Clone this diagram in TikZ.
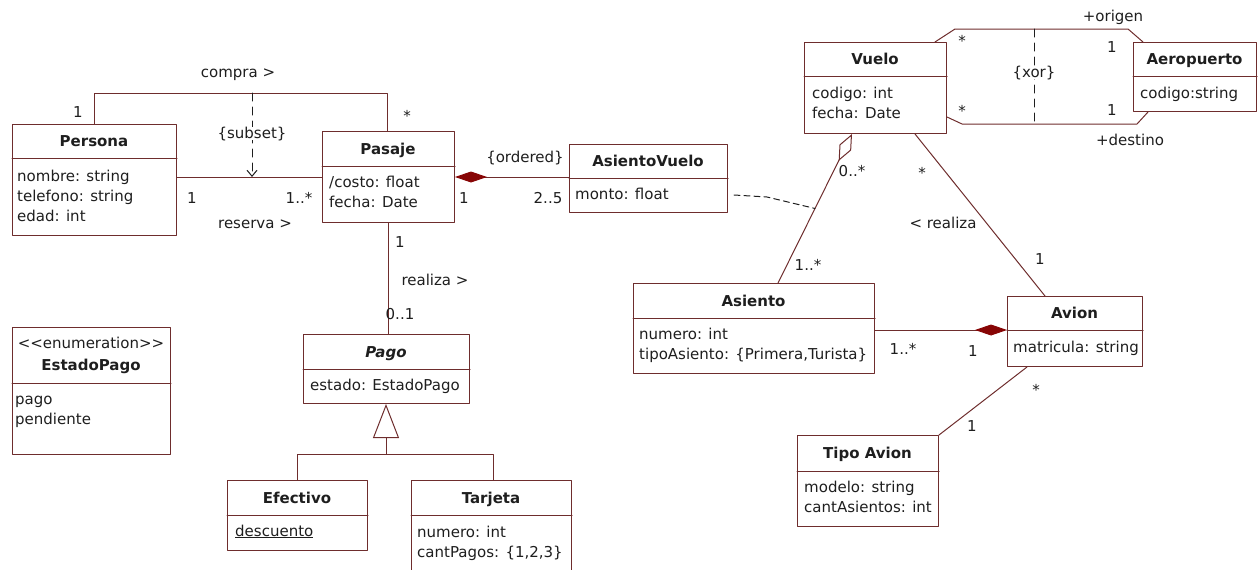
\documentclass[tikz,border=0pt]{standalone}
\usepackage{fontspec}
\setmainfont{DejaVu Sans}
\usetikzlibrary{arrows.meta}

\definecolor{umlborder}{RGB}{110,45,45}
\definecolor{umlfill}{RGB}{135,5,5}
\definecolor{umltext}{RGB}{30,30,30}

\begin{document}
\begin{tikzpicture}[
  x=1pt, y=-1pt,
  line cap=round,
  line join=round,
  every node/.style={font=\fontsize{15}{20}\selectfont, text=umltext, inner sep=0pt},
  classbox/.style={draw=umlborder, line width=1pt, anchor=north west},
  classname/.style={font=\fontsize{15}{20}\selectfont\bfseries, text height=11pt, text depth=0pt},
  attrs/.style={anchor=base west, align=left},
  assoc/.style={draw=umlborder, line width=1pt},
  dashedline/.style={draw=umltext, line width=1pt, dash pattern=on 8pt off 6pt},
  lbl/.style={text height=11pt, text depth=0pt},
  umlcomp/.tip={Diamond[fill=umlfill, color=umlfill, length=32pt, width=11pt]},
  umlaggr/.tip={Diamond[open, fill=white, color=umlborder, length=30pt, width=13pt]}
]
  \useasboundingbox (0,0) rectangle (1258,570);

  % Persona
  \node[classbox, minimum width=164, minimum height=111] (persona) at (12,124) {};
  \draw[assoc] (persona.west |- 0,158) -- (persona.east |- 0,158);
  \node[classname] (persona-name) at (94,141) {Persona};
  \node[attrs] (persona-attrs) at (17,221) {nombre: string\\telefono: string\\edad: int};

  % Pasaje
  \node[classbox, minimum width=132, minimum height=91] (pasaje) at (322,131) {};
  \draw[assoc] (pasaje.west |- 0,166) -- (pasaje.east |- 0,166);
  \node[classname] (pasaje-name) at (388,148.5) {Pasaje};
  \node[attrs] (pasaje-attrs) at (329,207) {/costo: float\\fecha: Date};

  % AsientoVuelo
  \node[classbox, minimum width=158, minimum height=68] (asientovuelo) at (569,144) {};
  \draw[assoc] (asientovuelo.west |- 0,178) -- (asientovuelo.east |- 0,178);
  \node[classname] (asientovuelo-name) at (648,161) {AsientoVuelo};
  \node[attrs] (asientovuelo-attrs) at (575,199) {monto: float};

  % Vuelo
  \node[classbox, minimum width=142, minimum height=91] (vuelo) at (804,42) {};
  \draw[assoc] (vuelo.west |- 0,76) -- (vuelo.east |- 0,76);
  \node[classname] (vuelo-name) at (875,59) {Vuelo};
  \node[attrs] (vuelo-attrs) at (812,118) {codigo: int\\fecha: Date};

  % Aeropuerto
  \node[classbox, minimum width=123, minimum height=69] (aeropuerto) at (1133,42) {};
  \draw[assoc] (aeropuerto.west |- 0,76) -- (aeropuerto.east |- 0,76);
  \node[classname] (aeropuerto-name) at (1194.5,59) {Aeropuerto};
  \node[attrs] (aeropuerto-attrs) at (1140,98) {codigo:string};

  % Asiento
  \node[classbox, minimum width=241, minimum height=90] (asiento) at (633,283) {};
  \draw[assoc] (asiento.west |- 0,318) -- (asiento.east |- 0,318);
  \node[classname] (asiento-name) at (753.5,300.5) {Asiento};
  \node[attrs] (asiento-attrs) at (639,359) {numero: int\\tipoAsiento: \{Primera,Turista\}};

  % Avion
  \node[classbox, minimum width=135, minimum height=70] (avion) at (1007,296) {};
  \draw[assoc] (avion.west |- 0,330) -- (avion.east |- 0,330);
  \node[classname] (avion-name) at (1074.5,313) {Avion};
  \node[attrs] (avion-attrs) at (1013,352) {matricula: string};

  % Tipo Avion
  \node[classbox, minimum width=141, minimum height=91] (tipoavion) at (797,435) {};
  \draw[assoc] (tipoavion.west |- 0,471) -- (tipoavion.east |- 0,471);
  \node[classname] (tipoavion-name) at (867.5,453) {Tipo Avion};
  \node[attrs] (tipoavion-attrs) at (804,512) {modelo: string\\cantAsientos: int};

  % Pago
  \node[classbox, minimum width=166, minimum height=69] (pago) at (303,334) {};
  \draw[assoc] (pago.west |- 0,369) -- (pago.east |- 0,369);
  \node[classname, font=\fontsize{15}{20}\selectfont\bfseries\itshape] (pago-name) at (386,351.5) {Pago};
  \node[attrs] (pago-attrs) at (310,390) {estado: EstadoPago};

  % Efectivo
  \node[classbox, minimum width=140, minimum height=70] (efectivo) at (227,480) {};
  \draw[assoc] (efectivo.west |- 0,515) -- (efectivo.east |- 0,515);
  \node[classname] (efectivo-name) at (297,497.5) {Efectivo};
  \node[attrs] (efectivo-attrs) at (235,536) {\underline{descuento}};

  % Tarjeta
  \node[classbox, minimum width=160, minimum height=95] (tarjeta) at (411,480) {};
  \draw[assoc] (tarjeta.west |- 0,515) -- (tarjeta.east |- 0,515);
  \node[classname] (tarjeta-name) at (491,497.5) {Tarjeta};
  \node[attrs] (tarjeta-attrs) at (417,557) {numero: int\\cantPagos: \{1,2,3\}};

  % EstadoPago
  \node[classbox, minimum width=158, minimum height=127] (estadopago) at (12,327) {};
  \draw[assoc] (estadopago.west |- 0,383) -- (estadopago.east |- 0,383);
  \node[lbl] (estadopago-stereo) at (91,343) {<\kern0pt<enumeration>\kern0pt>};
  \node[classname] (estadopago-name) at (91,365) {EstadoPago};
  \node[attrs] (estadopago-attrs) at (15,424) {pago\\pendiente};

  % compra / reserva
  \coordinate (compra-sub) at (252,93);
  \coordinate (reserva-sub) at (252,177);
  \draw[assoc] (persona.north -| 94,0) -- (94,93) -- (387,93) -- (pasaje.north -| 387,0);
  \draw[assoc] (persona.east |- reserva-sub) -- (pasaje.west |- reserva-sub);
  \draw[dashedline, -{Straight Barb[length=6pt, width=10pt]}] (compra-sub) -- (reserva-sub);
  \node[lbl, fill=white, inner sep=1pt] (subset) at (252,133) {\{subset\}};
  \node[lbl] (compra) at (238,72) {compra >};
  \node[lbl] (compra-m1) at (78,112) {1};
  \node[lbl] (compra-m2) at (407,116) {*};
  \node[lbl] (reserva) at (255,223) {reserva >};
  \node[lbl] (reserva-m1) at (192,198) {1};
  \node[lbl] (reserva-m2) at (299,198) {1..*};

  % Pasaje - AsientoVuelo
  \draw[assoc, {umlcomp}-] (pasaje.east |- 0,177) -- (asientovuelo.west |- 0,177);
  \node[lbl] (ordered) at (525,157) {\{ordered\}};
  \node[lbl] (ordered-m1) at (464,198) {1};
  \node[lbl] (ordered-m2) at (548,198) {2..5};

  % Pasaje - Pago
  \draw[assoc] (pasaje.south -| 388,0) -- (pago.north -| 388,0);
  \node[lbl] (realiza-pago) at (435,280) {realiza >};
  \node[lbl] (realiza-m1) at (400,242) {1};
  \node[lbl] (realiza-m2) at (400,314) {0..1};

  % Herencia
  \coordinate (gen-join) at (386,454);
  \draw[assoc, -{Triangle[open, fill=white, length=34pt, width=26pt]}] (gen-join) -- (pago.south -| gen-join);
  \draw[assoc] (efectivo.north -| 297,0) -- (297,454) -- (493,454) -- (tarjeta.north -| 493,0);

  % Vuelo - Asiento
  \draw[assoc, {umlaggr}-] (vuelo.south -| 852,0) -- coordinate[pos=0.5] (vuelo-asiento) (asiento.north -| 778,0);
  \draw[dashedline, dash pattern=on 6pt off 4pt] (asientovuelo.east |- 0,195) ++(6,0) -- (767,197) -- (vuelo-asiento);
  \node[lbl] (va-m1) at (852,171) {0..*};
  \node[lbl] (va-m2) at (808,265) {1..*};

  % Vuelo - Avion
  \draw[assoc] (vuelo.south -| 915,0) -- (avion.north -| 1045,0);
  \node[lbl] (realiza-avion) at (943,223) {< realiza};
  \node[lbl] (vav-m1) at (922,173) {*};
  \node[lbl] (vav-m2) at (1040,259) {1};

  % Asiento - Avion
  \draw[assoc, -{umlcomp}] (asiento.east |- 0,330) -- (avion.west |- 0,330);
  \node[lbl] (aa-m1) at (903,349) {1..*};
  \node[lbl] (aa-m2) at (973,351) {1};

  % Avion - Tipo Avion
  \draw[assoc] (avion.south -| 1027,0) -- (tipoavion.north east);
  \node[lbl] (at-m1) at (1036,390) {*};
  \node[lbl] (at-m2) at (972,426) {1};

  % Vuelo - Aeropuerto
  \draw[assoc] (vuelo.north -| 935,0) -- (955,29) -- (1128,29) -- (aeropuerto.north -| 1143,0);
  \draw[assoc] (vuelo.east |- 0,117) -- (962,124) -- (1137,124) -- (aeropuerto.south -| 1148,0);
  \draw[dashedline] (1034,29) -- (1034,124);
  \node[lbl, fill=white, inner sep=1pt] (xor) at (1034,72) {\{xor\}};
  \node[lbl] (origen) at (1113,16) {+origen};
  \node[lbl] (destino) at (1130,140) {+destino};
  \node[lbl] (origen-m1) at (962,41) {*};
  \node[lbl] (destino-m1) at (962,111) {*};
  \node[lbl] (origen-m2) at (1112,47) {1};
  \node[lbl] (destino-m2) at (1112,110) {1};
\end{tikzpicture}
\end{document}
